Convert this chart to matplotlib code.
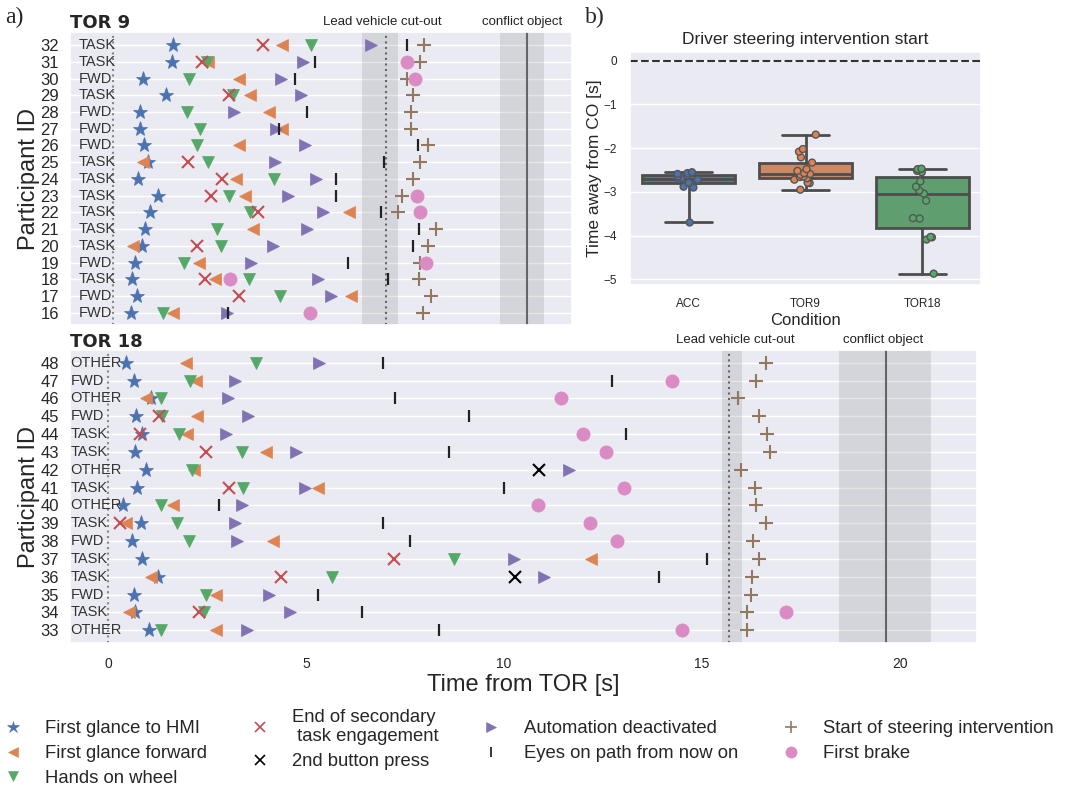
import numpy as np
import matplotlib
matplotlib.use("Agg")
import matplotlib.pyplot as plt
from matplotlib.lines import Line2D
import seaborn as sns

sns.set_theme(style="darkgrid")
plt.rcParams["font.family"] = ["Liberation Sans", "DejaVu Sans"]

nan = np.nan

# ---------------- TOR 9 timeline (participants listed top to bottom) ----------------
tor9_ids = [32, 31, 30, 29, 28, 27, 26, 25, 24, 23, 22, 21, 20, 19, 18, 17, 16]
tor9_cond = ["TASK", "TASK", "FWD", "TASK", "FWD", "FWD", "FWD", "TASK", "TASK",
             "TASK", "TASK", "TASK", "TASK", "FWD", "TASK", "FWD", "FWD"]
tor9_hmi = [1.51, 1.49, 0.75, 1.33, 0.68, 0.67, 0.78, 0.89, 0.62, 1.14, 0.93, 0.81, 0.72, 0.56, 0.47, 0.60, 0.45]
tor9_fwd = [4.26, 2.41, 3.19, 3.46, 3.95, 4.26, 3.19, 0.75, 3.11, 3.33, 5.96, 3.53, 0.51, 2.18, 2.58, 6.01, 1.52]
tor9_wheel = [5.00, 2.37, 1.93, 3.04, 1.86, 2.20, 2.13, 2.41, 4.07, 2.93, 3.46, 2.62, 2.72, 1.78, 3.44, 4.22, 1.27]
tor9_task = [3.80, 2.25, nan, 2.92, nan, nan, nan, 1.90, 2.76, 2.47, 3.65, nan, 2.11, nan, 2.32, 3.18, nan]
tor9_button = [nan] * 17
tor9_auto = [6.51, 4.81, 4.24, 4.76, 3.06, 4.12, 4.85, 4.09, 5.14, 4.43, 5.30, 4.89, 4.05, 3.48, 5.19, 5.52, 2.87]
tor9_eyes = [7.42, 5.10, 4.60, nan, 4.89, 4.20, 7.71, 6.84, 5.63, 5.63, 6.78, 7.73, 7.58, 5.93, 6.95, nan, 2.90]
tor9_steer = [7.85, 7.77, 7.44, 7.58, 7.54, 7.53, 7.96, 7.75, 7.57, 7.31, 7.19, 8.15, 7.95, 7.75, 7.73, 8.03, 7.84]
tor9_brake = [nan, 7.44, 7.63, nan, nan, nan, nan, nan, nan, 7.69, 7.77, nan, nan, 7.92, 2.95, nan, 4.97]
tor9_cutout = (6.29, 6.91, 7.19)    # band start, event, band end
tor9_conflict = (9.79, 10.45, 10.89)

# ---------------- TOR 18 timeline ----------------
tor18_ids = [48, 47, 46, 45, 44, 43, 42, 41, 40, 39, 38, 37, 36, 35, 34, 33]
tor18_cond = ["OTHER", "FWD", "OTHER", "FWD", "TASK", "TASK", "OTHER", "TASK",
              "OTHER", "TASK", "FWD", "TASK", "TASK", "FWD", "TASK", "OTHER"]
tor18_hmi = [0.45, 0.66, 1.08, 0.71, 0.85, 0.67, 0.95, 0.74, 0.39, 0.83, 0.60, 0.85, 1.27, 0.66, 0.68, 1.04]
tor18_fwd = [1.97, 2.22, 0.95, 2.24, 2.00, 3.98, 2.16, 5.31, 1.63, 0.45, 4.17, 12.21, 1.09, 2.73, 0.54, 2.73]
tor18_wheel = [3.74, 2.07, 1.33, 1.36, 1.79, 3.38, 2.11, 3.42, 1.33, 1.75, 2.05, 8.74, 5.65, 2.47, 2.42, 1.34]
tor18_task = [nan, nan, nan, 1.30, 0.81, 2.47, nan, 3.06, nan, 0.30, nan, 7.22, 4.37, nan, 2.31, nan]
tor18_button = [nan, nan, nan, nan, nan, nan, 10.89, nan, nan, nan, nan, nan, 10.29, nan, nan, nan]
tor18_auto = [5.34, 3.21, 3.04, 3.54, 2.98, 4.76, 11.64, 4.97, 3.38, 3.21, 3.25, 10.25, 11.01, 4.07, 4.60, 3.50]
tor18_eyes = [6.94, 12.74, 7.25, 9.12, 13.08, 8.61, nan, 10.00, 2.80, 6.95, 7.64, 15.14, 13.92, 5.31, 6.41, 8.35]
tor18_steer = [16.61, 16.38, 15.92, 16.44, 16.64, 16.72, 15.99, 16.34, 16.38, 16.61, 16.30, 16.44, 16.27, 16.25, 16.14, 16.14]
tor18_brake = [nan, 14.25, 11.44, nan, 12.00, 12.57, nan, 13.04, 10.87, 12.17, 12.86, nan, nan, nan, 17.12, 14.51]
tor18_cutout = (15.50, 15.69, 16.02)
tor18_conflict = (18.47, 19.64, 20.79)

# ---------------- steering intervention start relative to conflict object ----------------
box_conditions = ["ACC", "TOR9", "TOR18"]
steer_acc = [-3.70, -2.90, -2.88, -2.79, -2.75, -2.72, -2.71, -2.68, -2.65, -2.62, -2.59, -2.57, -2.55]
steer_tor9 = [-2.95, -2.80, -2.79, -2.72, -2.69, -2.66, -2.65, -2.61, -2.59, -2.57, -2.52, -2.48,
              -2.33, -2.21, -2.08, -2.02, -1.69]
steer_tor18 = [-4.87, -4.09, -4.04, -4.03, -3.61, -3.60, -3.20, -3.04, -2.97, -2.88, -2.76, -2.55,
               -2.52, -2.48, -2.47]

pal = sns.color_palette("deep")
event_styles = [
    # key, legend label, marker, colour, size, edge width
    ("hmi", "First glance to HMI", "*", pal[0], 11, 0.5),
    ("fwd", "First glance forward", "<", pal[1], 9, 0.5),
    ("wheel", "Hands on wheel", "v", pal[2], 9, 0.5),
    ("task", "End of secondary\n task engagement", "x", pal[3], 9, 1.5),
    ("button", "2nd button press", "x", "black", 9, 1.5),
    ("auto", "Automation deactivated", ">", pal[4], 9, 0.5),
    ("eyes", "Eyes on path from now on", "|", "#222222", 9, 1.6),
    ("steer", "Start of steering intervention", "+", pal[5], 10, 1.5),
    ("brake", "First brake", "o", pal[6], 9.5, 0.5),
]

W, H = 1081, 789
fig = plt.figure(figsize=(W / 100, H / 100), dpi=100)
ax_top = fig.add_axes([70 / W, 1 - 325 / H, 502 / W, 293 / H])
ax_bot = fig.add_axes([70 / W, 1 - 643 / H, 907 / W, 293 / H])
ax_box = fig.add_axes([630 / W, 1 - 285 / H, 351 / W, 233 / H])


def draw_timeline(ax, ids, conds, events, cutout, conflict, xlim, ylim, title,
                  cond_x, cut_text_x, conf_text_x):
    ax.axvspan(cutout[0], cutout[2], color="gray", alpha=0.2, lw=0)
    ax.axvspan(conflict[0], conflict[2], color="gray", alpha=0.2, lw=0)
    ax.axvline(cutout[1], color="#666666", ls=":", lw=1.5)
    ax.axvline(conflict[1], color="#666666", ls="-", lw=1.5)
    ax.axvline(0, color="#888888", ls=":", lw=1.5)
    for key, label, mk, col, ms, mew in event_styles:
        ax.plot(events[key], ids, ls="none", marker=mk, color=col, ms=ms,
                mew=mew, mec=col, zorder=3)
    for pid, c in zip(ids, conds):
        ax.text(cond_x, pid, c, ha="left", va="center", fontsize=10.5,
                color="#333333", zorder=4)
    ax.set_xlim(*xlim)
    ax.set_ylim(*ylim)
    ax.set_yticks(ids)
    ax.set_yticklabels([str(i) for i in ids], fontsize=12)
    ax.tick_params(axis="y", pad=2)
    ax.grid(axis="x", visible=False)
    ax.set_ylabel("Participant ID", fontsize=17, labelpad=0)
    ax.set_title(title, loc="left", fontweight="bold", fontsize=13,
                 fontfamily="DejaVu Sans", pad=2)
    trans = ax.get_xaxis_transform()
    ax.text(cut_text_x, 1.012, "Lead vehicle cut-out", transform=trans,
            ha="center", va="bottom", fontsize=9.5, color="#222222")
    ax.text(conf_text_x, 1.012, "conflict object", transform=trans,
            ha="center", va="bottom", fontsize=9.5, color="#222222")


events9 = dict(hmi=tor9_hmi, fwd=tor9_fwd, wheel=tor9_wheel, task=tor9_task,
               button=tor9_button, auto=tor9_auto, eyes=tor9_eyes,
               steer=tor9_steer, brake=tor9_brake)
events18 = dict(hmi=tor18_hmi, fwd=tor18_fwd, wheel=tor18_wheel, task=tor18_task,
                button=tor18_button, auto=tor18_auto, eyes=tor18_eyes,
                steer=tor18_steer, brake=tor18_brake)

draw_timeline(ax_top, tor9_ids, tor9_cond, events9, tor9_cutout, tor9_conflict,
              (-1.09, 11.6), (15.27, 32.78), "TOR 9", -0.86, 6.81, 10.35)
ax_top.set_xticks([0, 5, 10])
ax_top.set_xticklabels([])
ax_top.tick_params(axis="x", length=0)

draw_timeline(ax_bot, tor18_ids, tor18_cond, events18, tor18_cutout, tor18_conflict,
              (-0.96, 21.95), (32.29, 48.71), "TOR 18", -0.95, 15.85, 19.57)
ax_bot.set_xticks([0, 5, 10, 15, 20])
ax_bot.tick_params(axis="x", labelsize=10, pad=4)
ax_bot.set_xlabel("Time from TOR [s]", fontsize=17, labelpad=2)

# ---------------- box panel ----------------
box_data = [steer_acc, steer_tor9, steer_tor18]
bp = ax_box.boxplot(box_data, positions=[0, 1, 2], widths=0.8, whis=(0, 100),
                    patch_artist=True, showfliers=False, manage_ticks=False,
                    medianprops=dict(color="#4d4d4d", lw=2),
                    boxprops=dict(edgecolor="#4d4d4d", lw=2),
                    whiskerprops=dict(color="#4d4d4d", lw=2),
                    capprops=dict(color="#4d4d4d", lw=2))
for patch, c in zip(bp["boxes"], pal[:3]):
    patch.set_facecolor(sns.desaturate(c, 0.75))

cats, vals = [], []
for name, d in zip(box_conditions, box_data):
    cats += [name] * len(d)
    vals += d
np.random.seed(3)
sns.stripplot(x=cats, y=vals, hue=cats, order=box_conditions, hue_order=box_conditions,
              palette=pal[:3], legend=False, size=5, edgecolor="#555555",
              linewidth=1, jitter=0.1, ax=ax_box, zorder=4)
ax_box.axhline(0, color="#333333", ls="--", lw=1.5)
ax_box.set_xlim(-0.5, 2.5)
ax_box.set_ylim(-5.13, 0.2)
ax_box.set_yticks([0, -1, -2, -3, -4, -5])
ax_box.set_xticks([0, 1, 2])
ax_box.set_xticklabels(box_conditions)
ax_box.tick_params(axis="both", labelsize=8.5)
ax_box.grid(axis="x", visible=False)
ax_box.set_xlabel("Condition", fontsize=12, labelpad=2)
ax_box.set_ylabel("Time away from CO [s]", fontsize=12.5, labelpad=1)
ax_box.set_title("Driver steering intervention start", fontsize=12.5, pad=6)

# panel letters
fig.text(5 / W, 1 - 17 / H, "a)", fontsize=17, family="Liberation Serif", va="center")
fig.text(585 / W, 1 - 17 / H, "b)", fontsize=17, family="Liberation Serif", va="center")

# legend
handles = [Line2D([], [], ls="none", marker=mk, color=col, mec=col, ms=ms * 0.85,
                  mew=mew * 0.8) for _, _, mk, col, ms, mew in event_styles]
labels = [lab for _, lab, _, _, _, _ in event_styles]
fig.legend(handles, labels, loc="upper center", bbox_to_anchor=(0.489, 1 - 692 / H),
           ncol=4, frameon=False, fontsize=13.3, handlelength=1.0,
           handletextpad=1.25, columnspacing=2.35, labelspacing=0.42)

fig.savefig("out.png", dpi=100)
